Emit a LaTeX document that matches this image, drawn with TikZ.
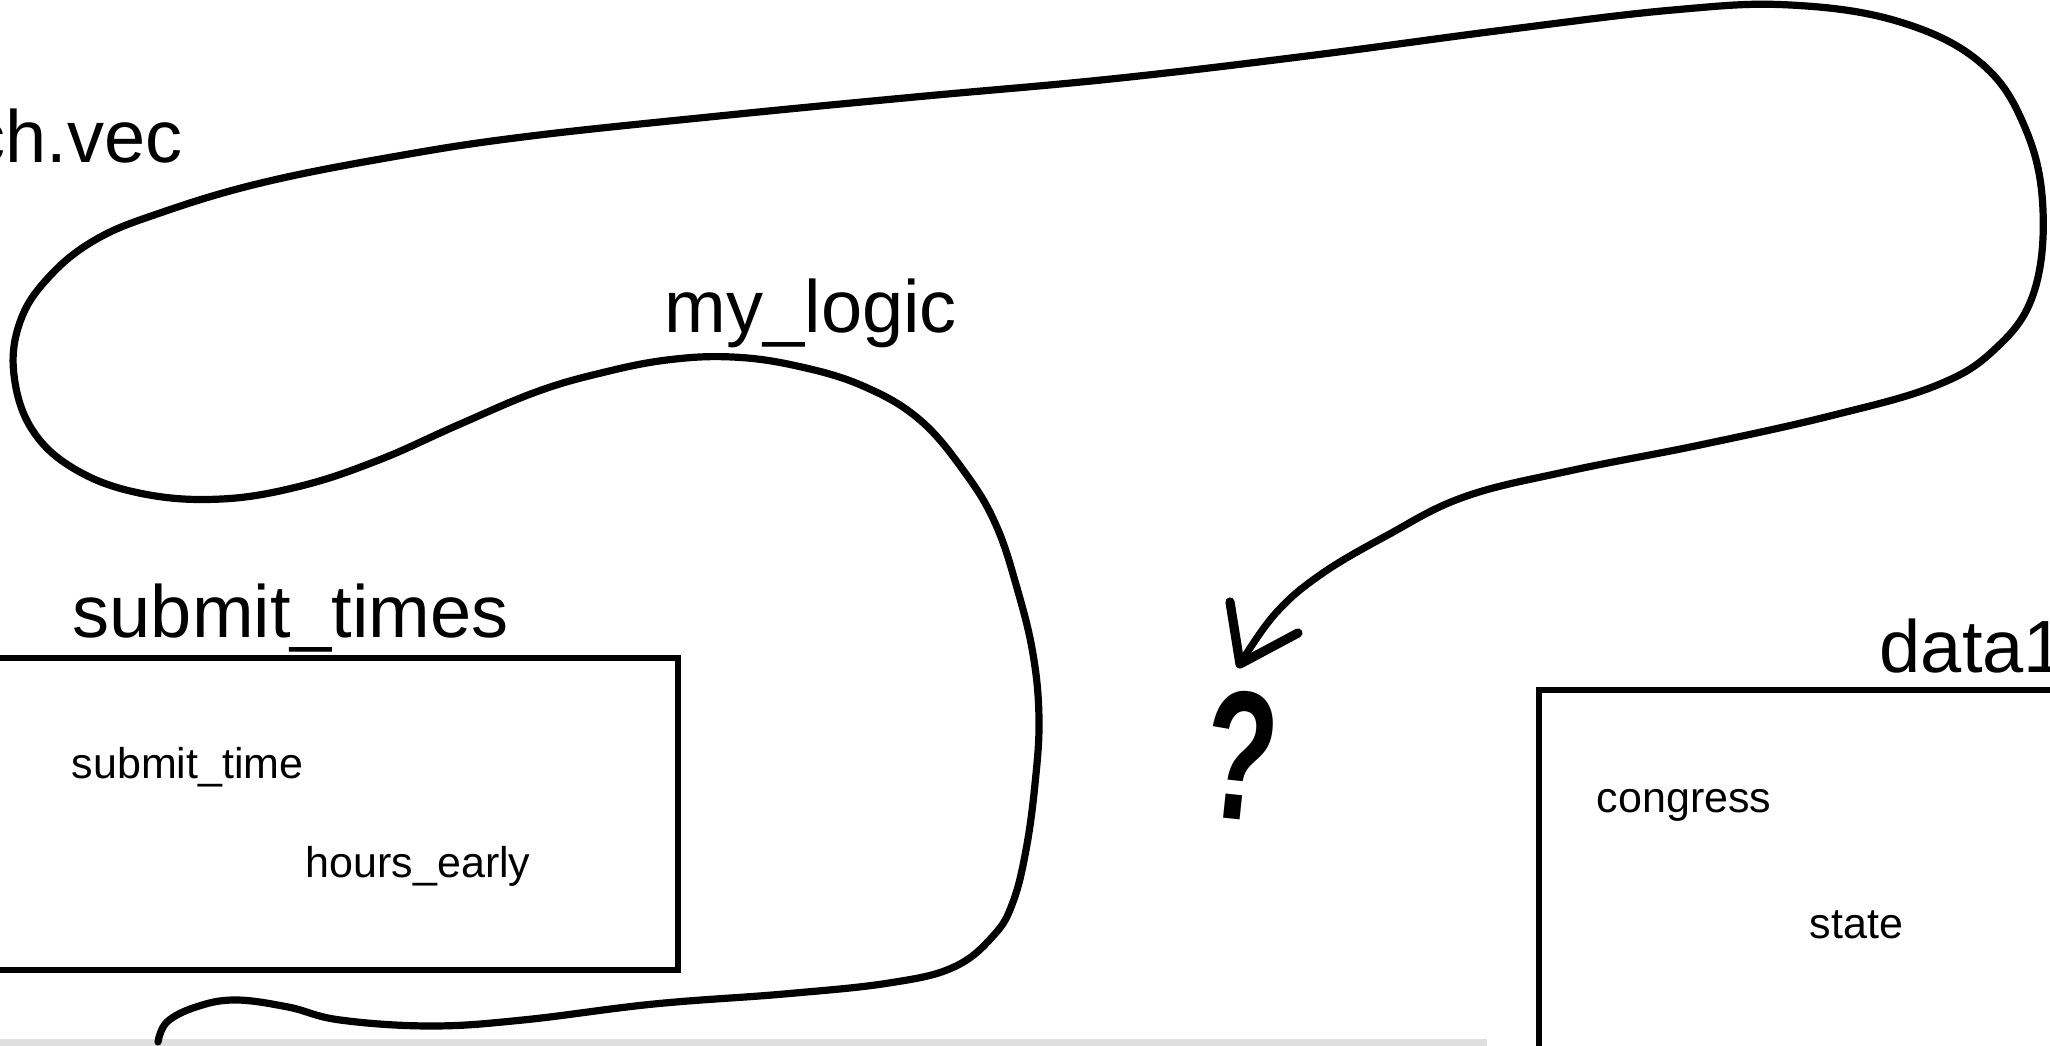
\documentclass[tikz,border=0pt]{standalone}
\usepackage{fontspec}
\setmainfont{Liberation Sans}
\begin{document}
\begin{tikzpicture}[x=0.25pt,y=-0.25pt,
  big/.style={font=\fontsize{18.5}{20}\selectfont, anchor=base west, inner sep=0pt},
  small/.style={font=\fontsize{10.75}{12}\selectfont, anchor=base west, inner sep=0pt},
  tablebox/.style={draw=black, line width=1.35pt},
  chalk/.style={draw=black, line width=1.8pt, line cap=round, line join=round},
]
\useasboundingbox (0,0) rectangle (2050,1046);
\fill[white] (0,0) rectangle (2050,1046);
% gray bar at the bottom
\fill[gray!25] (0,1039) rectangle (1487,1046);
% titles
\node[big] (chvec) at (-32,163) {ch.vec};
\node[big] (mylogic) at (664,333) {my\_logic};
\node[big] (sttitle) at (72,638) {submit\_times};
\node[big] (dtitle) at (1879,673) {data1};
% tables
\draw[tablebox] (-10,658) rectangle (678,970);
\draw[tablebox] (1539,690) rectangle (2080,1080);
\node[small] (f1) at (71,779) {submit\_time};
\node[small] (f2) at (305,878) {hours\_early};
\node[small] (f3) at (1596,813) {congress};
\node[small] (f4) at (1809,939) {state};
% question mark
\node[font=\fontsize{46}{47}\selectfont\bfseries, anchor=base, inner sep=0pt, rotate=-6] (q) at (1234,819) {\scalebox{0.64}[1]{?}};
% the long hand-drawn curve
\coordinate (cstart) at (158,1042);
\coordinate (tip) at (1240,664);
\coordinate (barbL) at (1230,602);
\coordinate (barbR) at (1298,633);
\draw[chalk] plot[smooth, tension=0.65] coordinates {
  (cstart) (167,1022) (196,1007) (235,1000) (288,1007) (340,1020) (431,1026)
  (523,1020) (654,1004) (784,994) (889,983) (954,967) (994,935) (1013,902)
  (1026,850) (1035,784) (1039,719) (1033,654) (1017,588) (996,525)
  (966,474) (920,420) (863,386) (797,366) (732,357) (667,360) (601,373) (536,392)
  (458,425) (379,460) (301,486) (222,499) (144,494) (78,471) (33,431)
  (14,375) (20,322) (48,278) (95,240) (160,213) (261,183) (392,157)
  (523,137) (719,116) (915,97) (1111,79) (1307,56) (1504,30) (1673,10)
  (1790,5) (1900,22) (1982,64) (2026,130) (2043,210) (2033,295) (1994,350)
  (1935,386) (1830,416) (1700,445) (1569,471) (1464,497) (1386,536)
  (1320,575) (1275,614) (tip)};
\draw[chalk, line width=2.3pt] (barbL) -- (tip) -- (barbR);
\end{tikzpicture}
\end{document}
